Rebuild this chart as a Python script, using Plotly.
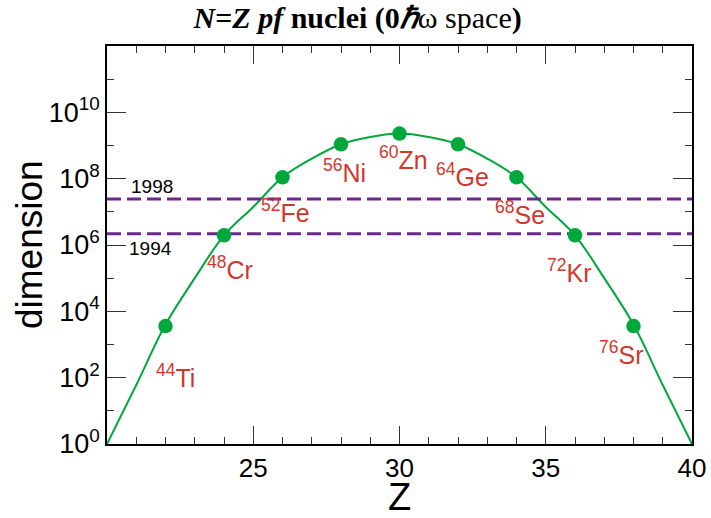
import math
import plotly.graph_objects as go

# ---- data ----
curve_Z = list(range(20, 41))
curve_dim = [1, 60, 4.0e3, 1.0e5, 1.96e6, 1.4e7, 1.1e8, 4.0e8, 1.09e9, 1.8e9, 2.29e9,
             1.8e9, 1.09e9, 4.0e8, 1.1e8, 1.4e7, 1.96e6, 1.0e5, 4.0e3, 60, 1]

nuc_Z = [22, 24, 26, 28, 30, 32, 34, 36, 38]
nuc_dim = [3.6e3, 1.96e6, 1.1e8, 1.09e9, 2.29e9, 1.09e9, 1.1e8, 1.96e6, 3.6e3]
nuc_A = ["44", "48", "52", "56", "60", "64", "68", "72", "76"]
nuc_sym = ["Ti", "Cr", "Fe", "Ni", "Zn", "Ge", "Se", "Kr", "Sr"]

limit_years = ["1998", "1994"]
limit_dim = [2.45e7, 2.2e6]

y_tickvals = [1, 1e2, 1e4, 1e6, 1e8, 1e10]
y_ticktext = ["10<sup>0</sup>", "10<sup>2</sup>", "10<sup>4</sup>", "10<sup>6</sup>",
              "10<sup>8</sup>", "10<sup>10</sup>"]
x_tickvals = [25, 30, 35, 40]

# ---- styles / positions ----
GREEN = "rgb(0,168,60)"
PURPLE = "rgb(108,40,142)"
RED = "rgb(210,55,45)"
FONT = "Liberation Sans, Arial"
label_shift = [(10, -50), (6, -33), (3, -34), (3, -27), (4, -24), (4, -31), (3, -36), (-6, -36), (-13, -27)]
year_shift = [(0, 12), (0, -15)]
year_x = [21.55, 21.5]

fig = go.Figure()

fig.add_trace(go.Scatter(x=curve_Z, y=curve_dim, mode="lines",
                         line=dict(color=GREEN, width=2, shape="spline", smoothing=1.0),
                         hoverinfo="skip", showlegend=False))

for yv in limit_dim:
    fig.add_trace(go.Scatter(x=[20, 40], y=[yv, yv], mode="lines",
                             line=dict(color=PURPLE, width=3, dash="14px,6px"),
                             showlegend=False))

fig.add_trace(go.Scatter(x=nuc_Z, y=nuc_dim, mode="markers",
                         marker=dict(color=GREEN, size=14.5), showlegend=False))

for z, d, a, s, (dx, dy) in zip(nuc_Z, nuc_dim, nuc_A, nuc_sym, label_shift):
    fig.add_annotation(x=z, y=math.log10(d), text=f"<sup>{a}</sup>{s}", showarrow=False,
                       xshift=dx, yshift=dy, xanchor="center", yanchor="middle",
                       font=dict(family=FONT, size=25, color=RED))

for yr, d, xv, (dx, dy) in zip(limit_years, limit_dim, year_x, year_shift):
    fig.add_annotation(x=xv, y=math.log10(d), text=yr, showarrow=False, xshift=dx, yshift=dy,
                       xanchor="center", yanchor="middle",
                       font=dict(family=FONT, size=19, color="black"))

# axis titles as annotations for exact placement
fig.add_annotation(x=0, xref="paper", y=0.5, yref="paper", text="dimension", textangle=-90,
                   showarrow=False, xshift=-78, xanchor="center", yanchor="middle",
                   font=dict(family=FONT, size=37, color="black"))
fig.add_annotation(x=0.5, xref="paper", y=0, yref="paper", text="Z",
                   showarrow=False, yshift=-53, xanchor="center", yanchor="middle",
                   font=dict(family=FONT, size=38, color="black"))

fig.update_layout(
    width=711, height=518,
    margin=dict(l=107, r=19, t=46, b=74),
    paper_bgcolor="white", plot_bgcolor="white",
    font=dict(family=FONT, color="black"),
    title=dict(text="<b><i>N</i>=<i>Z</i> <i>pf</i> nuclei (0<i>ℏ</i></b>ω space<b>)</b>",
               x=0.503, xanchor="center", y=0.967, yanchor="middle",
               font=dict(family="Liberation Serif, Times New Roman", size=30, color="black")),
)

fig.update_xaxes(range=[20, 40], tickvals=x_tickvals, ticks="inside", ticklen=18, tickwidth=1.3,
                 tickcolor="#333", showline=True, linecolor="black", linewidth=1.5, mirror="ticks",
                 showgrid=False, zeroline=False, automargin=False,
                 minor=dict(ticks="inside", ticklen=7, dtick=1, tickcolor="#333", tickwidth=1.3, showgrid=False),
                 tickfont=dict(size=26, family=FONT))

fig.update_yaxes(type="log", range=[0, 12], tickvals=y_tickvals, ticktext=y_ticktext,
                 ticks="inside", ticklen=19, tickwidth=1.3, tickcolor="#333",
                 showline=True, linecolor="black", linewidth=1.5, mirror="ticks",
                 showgrid=False, zeroline=False, automargin=False,
                 minor=dict(ticks="inside", ticklen=7, tickvals=[10, 1e3, 1e5, 1e7, 1e9, 1e11],
                            tickcolor="#333", tickwidth=1.3, showgrid=False),
                 tickfont=dict(size=27, family=FONT))

# remove the default 8px page margin so the figure sits at the window's top-left corner
fig.write_html("out.html", config={"displayModeBar": False},
               post_script="document.body.style.margin='0';")
